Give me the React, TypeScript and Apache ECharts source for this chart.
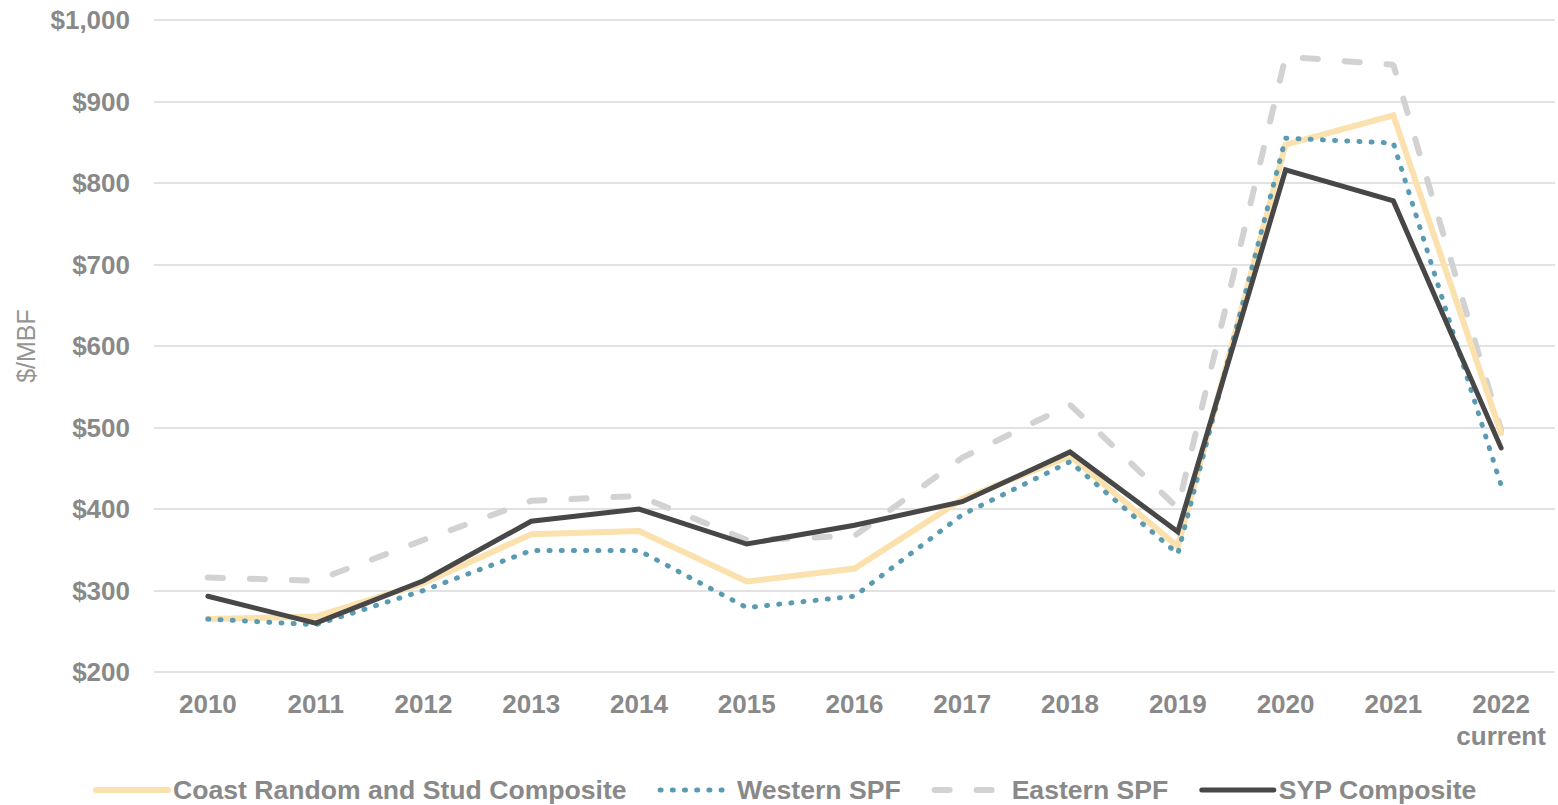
import React, { useEffect, useRef } from "react";
import * as echarts from "echarts";

const categories = ["2010", "2011", "2012", "2013", "2014", "2015", "2016", "2017", "2018", "2019", "2020", "2021", "2022\ncurrent"];
const coastRandomStud = [265, 268, 309, 369, 373, 311, 327, 412, 465, 354, 847, 883, 493];
const westernSPF = [265, 258, 300, 349, 349, 279, 293, 393, 458, 345, 855, 849, 429];
const easternSPF = [316, 312, 362, 410, 416, 362, 367, 463, 528, 401, 955, 945, 497];
const sypComposite = [293, 260, 312, 385, 400, 357, 380, 409, 470, 372, 816, 778, 475];
const seriesNames = ["Coast Random and Stud Composite", "Western SPF", "Eastern SPF", "SYP Composite"];

const FONT = "'Liberation Sans', Arial, sans-serif";
const LABEL = "#898989";

export default function App() {
  const ref = useRef<HTMLDivElement>(null);
  useEffect(() => {
    if (!ref.current) return;
    const chart = echarts.init(ref.current, null, { renderer: "svg" });
    chart.setOption({
      animation: false,
      textStyle: { fontFamily: FONT },
      grid: { left: 154, right: 3, top: 20, bottom: 133, containLabel: false },
      legend: {
        left: 88,
        top: 771,
        itemWidth: 72,
        itemHeight: 14,
        itemGap: 31,
        itemStyle: { opacity: 0 },
        lineStyle: { width: "inherit", type: "inherit", cap: "round" },
        textStyle: { color: LABEL, fontSize: 26.6, fontWeight: "bold", fontFamily: FONT, lineHeight: 28 },
        data: seriesNames,
      },
      xAxis: {
        type: "category",
        data: categories,
        boundaryGap: true,
        axisLine: { show: false },
        axisTick: { show: false },
        axisLabel: {
          color: LABEL,
          fontSize: 26,
          fontWeight: "bold",
          fontFamily: FONT,
          margin: 16,
          lineHeight: 32,
          interval: 0,
        },
      },
      yAxis: {
        type: "value",
        min: 200,
        max: 1000,
        interval: 100,
        name: "$/MBF",
        nameLocation: "middle",
        nameGap: 116,
        nameRotate: 90,
        nameTextStyle: { color: "#959595", fontSize: 25, fontFamily: FONT },
        axisLine: { show: false },
        axisTick: { show: false },
        splitLine: { lineStyle: { color: "#e2e2e2", width: 2 } },
        axisLabel: {
          color: LABEL,
          fontSize: 26,
          fontWeight: "bold",
          fontFamily: FONT,
          margin: 24,
          formatter: (v: number) => "$" + v.toLocaleString("en-US"),
        },
      },
      series: [
        {
          name: seriesNames[0],
          type: "line",
          data: coastRandomStud,
          symbol: "none",
          lineStyle: { color: "#fbe1ae", width: 6, cap: "round", join: "miter" },
          itemStyle: { color: "#fbe1ae" },
          z: 2,
        },
        {
          name: seriesNames[1],
          type: "line",
          data: westernSPF,
          symbol: "none",
          lineStyle: { color: "#5b9bb2", width: 5, type: [1, 11.2], cap: "round" },
          itemStyle: { color: "#5b9bb2" },
          z: 3,
        },
        {
          name: seriesNames[2],
          type: "line",
          data: easternSPF,
          symbol: "none",
          lineStyle: { color: "#d2d2d2", width: 6, type: [15, 27], cap: "round" },
          itemStyle: { color: "#d2d2d2" },
          z: 1,
        },
        {
          name: seriesNames[3],
          type: "line",
          data: sypComposite,
          symbol: "none",
          lineStyle: { color: "#474747", width: 5, cap: "round", join: "miter" },
          itemStyle: { color: "#474747" },
          z: 4,
        },
      ],
    });
    return () => chart.dispose();
  }, []);
  return <div ref={ref} style={{ width: 1558, height: 805, position: "absolute", left: 0, top: 0 }} />;
}
